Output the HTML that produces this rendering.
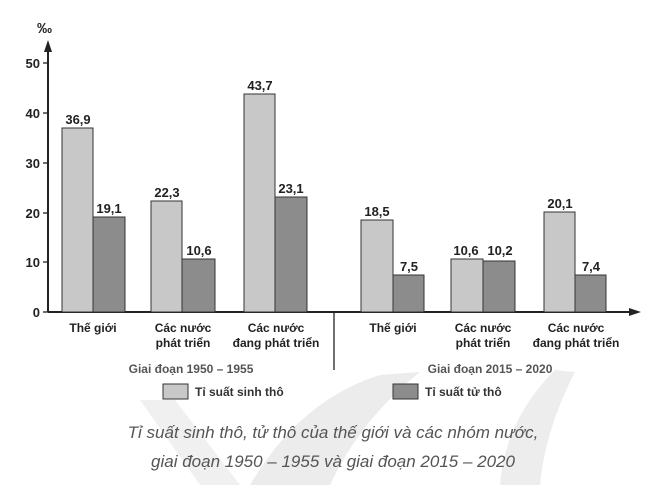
<!DOCTYPE html>
<html><head><meta charset="utf-8"><style>
body{margin:0;background:#fff;}
svg{display:block;font-family:"Liberation Sans",Arial,sans-serif;}
</style></head><body>
<svg width="665" height="485" viewBox="0 0 665 485">
<path d="M250 485 Q300 400 380 375 L420 372 Q360 420 330 485 Z" fill="#ececec"/>
<path d="M500 485 Q505 420 555 370 L575 372 Q545 430 540 485 Z" fill="#ededed"/>
<path d="M140 400 L175 400 L240 485 L200 485 Z" fill="#f0f0f0"/>
<g stroke="#222" stroke-width="1.3">
<line x1="48" y1="312" x2="632" y2="312" stroke-width="2"/>
<line x1="48" y1="312" x2="48" y2="46" stroke-width="2"/>
<line x1="334" y1="312" x2="334" y2="370"/>
<line x1="43" y1="63" x2="48" y2="63"/><line x1="43" y1="113" x2="48" y2="113"/>
<line x1="43" y1="163" x2="48" y2="163"/><line x1="43" y1="213" x2="48" y2="213"/>
<line x1="43" y1="262" x2="48" y2="262"/><line x1="43" y1="312" x2="48" y2="312"/>
</g>
<polygon points="48,40 44,52 52,52" fill="#222"/>
<polygon points="641,312 629,308 629,316" fill="#222"/>
<g font-size="13" font-weight="bold" fill="#222" text-anchor="end">
<text x="40" y="68">50</text><text x="40" y="118">40</text><text x="40" y="168">30</text>
<text x="40" y="218">20</text><text x="40" y="267">10</text><text x="40" y="317">0</text>
</g>
<text x="37" y="33" font-size="15" font-weight="bold" fill="#222">‰</text>
<g stroke="#333" stroke-width="1">
<rect x="62" y="128" width="31" height="184" fill="#c8c8c8"/>
<rect x="93" y="217" width="32" height="95" fill="#8c8c8c"/>
<rect x="151" y="201" width="31" height="111" fill="#c8c8c8"/>
<rect x="182" y="259" width="33" height="53" fill="#8c8c8c"/>
<rect x="244" y="94" width="31" height="218" fill="#c8c8c8"/>
<rect x="275" y="197" width="32" height="115" fill="#8c8c8c"/>
<rect x="361" y="220" width="32" height="92" fill="#c8c8c8"/>
<rect x="393" y="275" width="31" height="37" fill="#8c8c8c"/>
<rect x="451" y="259" width="32" height="53" fill="#c8c8c8"/>
<rect x="483" y="261" width="32" height="51" fill="#8c8c8c"/>
<rect x="544" y="212" width="31" height="100" fill="#c8c8c8"/>
<rect x="575" y="275" width="31" height="37" fill="#8c8c8c"/>
</g>
<g font-size="13" font-weight="bold" fill="#222" text-anchor="middle">
<text x="78" y="124">36,9</text><text x="109" y="213">19,1</text>
<text x="167" y="197">22,3</text><text x="199" y="255">10,6</text>
<text x="260" y="90">43,7</text><text x="291" y="193">23,1</text>
<text x="377" y="216">18,5</text><text x="409" y="271">7,5</text>
<text x="466" y="255">10,6</text><text x="500" y="255">10,2</text>
<text x="560" y="208">20,1</text><text x="591" y="271">7,4</text>
</g>
<g font-size="12" font-weight="bold" fill="#222" text-anchor="middle">
<text x="93" y="332">Thế giới</text>
<text x="183" y="332">Các nước</text><text x="183" y="347">phát triển</text>
<text x="276" y="332">Các nước</text><text x="276" y="347">đang phát triển</text>
<text x="393" y="332">Thế giới</text>
<text x="483" y="332">Các nước</text><text x="483" y="347">phát triển</text>
<text x="576" y="332">Các nước</text><text x="576" y="347">đang phát triển</text>
</g>
<g font-size="12" font-weight="bold" fill="#555" text-anchor="middle">
<text x="191" y="373">Giai đoạn 1950 – 1955</text>
<text x="490" y="373">Giai đoạn 2015 – 2020</text>
</g>
<rect x="163" y="384" width="25" height="15" fill="#c8c8c8" stroke="#333"/>
<text x="195" y="396" font-size="12" font-weight="bold" fill="#333">Tỉ suất sinh thô</text>
<rect x="393" y="384" width="25" height="15" fill="#8c8c8c" stroke="#333"/>
<text x="425" y="396" font-size="12" font-weight="bold" fill="#333">Tỉ suất tử thô</text>
<g font-size="17" font-style="italic" fill="#555" text-anchor="middle">
<text x="333" y="438">Tỉ suất sinh thô, tử thô của thế giới và các nhóm nước,</text>
<text x="333" y="467">giai đoạn 1950 – 1955 và giai đoạn 2015 – 2020</text>
</g>
</svg>
</body></html>
